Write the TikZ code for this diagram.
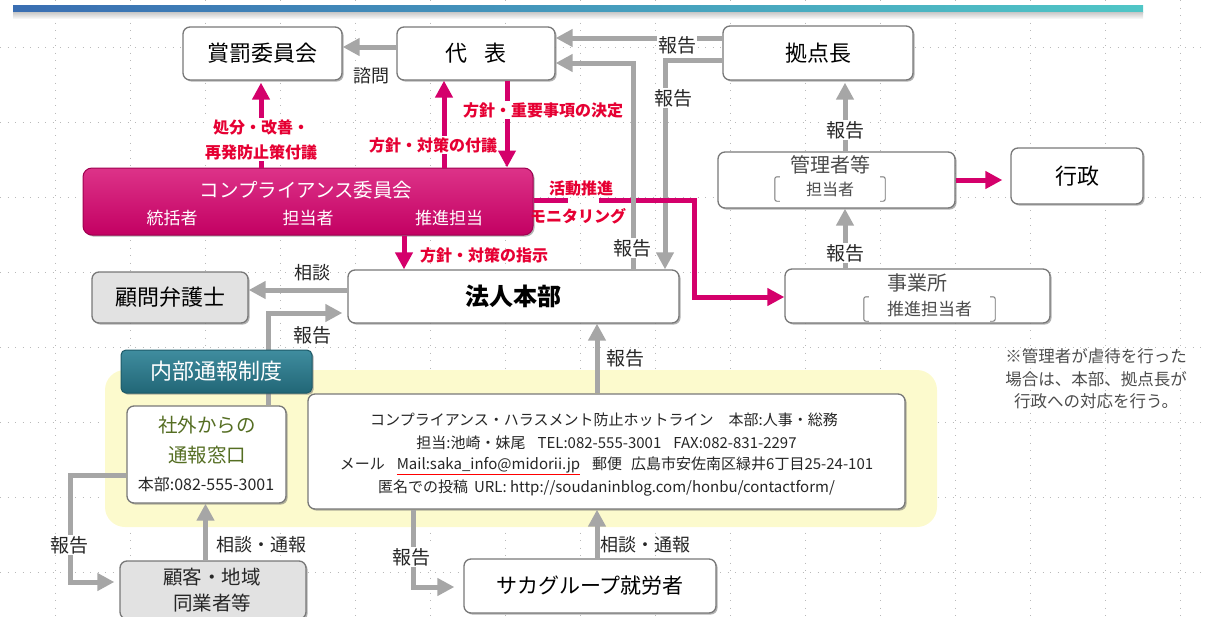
\documentclass[tikz,border=0pt]{standalone}
\usepackage{fontspec}
\setmainfont{Noto Sans CJK JP}
\usetikzlibrary{arrows.meta,shadows}

\definecolor{arrowgray}{RGB}{166,166,166}
\definecolor{pinkline}{RGB}{212,0,107}
\definecolor{redtxt}{RGB}{230,0,51}
\definecolor{boxline}{RGB}{120,120,120}
\definecolor{tealbox}{RGB}{42,128,148}
\definecolor{yellowbg}{RGB}{252,250,205}
\definecolor{greentxt}{RGB}{85,110,35}
\definecolor{lightbox}{RGB}{226,226,226}
\definecolor{gridgray}{RGB}{185,185,185}
\definecolor{barblue}{RGB}{58,110,178}
\definecolor{barteal}{RGB}{80,198,198}

\newcommand{\fsz}[1]{\fontsize{#1}{#1}\selectfont}
\newcommand{\mailul}[1]{\textcolor{red}{\underline{\textcolor{black!85}{#1}}}}

\tikzset{
  box/.style={draw=boxline, line width=1.3pt, rounded corners=7pt, fill=white, inner sep=0pt,
    drop shadow={shadow xshift=1.6pt, shadow yshift=-1.6pt, fill=black!60, opacity=.5}},
  graybox/.style={box, fill=lightbox},
  grayarrow/.style={draw=arrowgray, line width=5pt, -{Triangle[length=17pt,width=17pt]}},
  pinkarrow/.style={draw=pinkline, line width=5pt, -{Triangle[length=17pt,width=17pt]}},
  lbl/.style={font=\fsz{19}, text=black!85, inner sep=1pt},
  redlbl/.style={font=\fsz{16}\bfseries, text=redtxt, inner sep=1pt},
  onwhite/.style={fill=white},
  gridline/.style={gridgray, line width=0.7pt, dash pattern=on 1pt off 6.5pt},
  bracket/.style={black!55, line width=0.9pt, rounded corners=2pt},
}

\begin{document}
\begin{tikzpicture}[x=1pt,y=-1pt]
\useasboundingbox (0,0) rectangle (1205,616);

% background grid
\foreach \gx in {55,130,...,1180}
  \draw[gridline] (\gx,0) -- (\gx,616);
\foreach \gy in {47,122,...,572}
  \draw[gridline] (0,\gy) -- (1205,\gy);

% title bar
\shade[left color=barblue, right color=barteal] (13,5) rectangle (1143,12);
\shade[top color=black!22, bottom color=black!4] (13,12) rectangle (1143,18);

% internal reporting area
\node[fill=yellowbg, rounded corners=20pt, minimum width=832pt, minimum height=157pt, inner sep=0pt] (area) at (521,448.5) {};

% upper boxes
\node[box, minimum width=159pt, minimum height=53pt, font=\fsz{22}] (shobatsu) at (262.5,53.5) {賞罰委員会};
\node[box, minimum width=158pt, minimum height=53pt, font=\fsz{22}] (daihyo) at (476,53.5) {代\hspace{0.75em}表};
\node[box, minimum width=190pt, minimum height=54pt, font=\fsz{22}] (kyoten) at (818,53) {拠点長};

\node[draw=pinkline!75!black, line width=1pt, rounded corners=9pt, top color=pinkline!80!white, bottom color=pinkline!92!black,
  minimum width=450pt, minimum height=67pt, inner sep=0pt,
  drop shadow={shadow xshift=1.6pt, shadow yshift=-1.6pt, fill=black!60, opacity=.5}] (iinkai) at (308,201.5) {};
\node[font=\fsz{19.5}, text=white] (iinkaititle) at (306,190) {コンプライアンス委員会};
\node[font=\fsz{17}, text=white] (tokatsu) at (172,218) {統括者};
\node[font=\fsz{17}, text=white] (tanto) at (308,218) {担当者};
\node[font=\fsz{17}, text=white] (suishin) at (449,218) {推進担当};

\node[box, minimum width=237pt, minimum height=56pt] (kanri) at (836.5,180) {};
\node[font=\fsz{20}, text=black!70] (kanrititle) at (830,165) {管理者等};
\node[font=\fsz{16}, text=black!70, minimum width=110pt, minimum height=24pt, inner sep=0pt] (kanrisub) at (830,189) {担当者};
\draw[bracket] ([xshift=5pt]kanrisub.north west) -- (kanrisub.north west) -- (kanrisub.south west) -- ([xshift=5pt]kanrisub.south west);
\draw[bracket] ([xshift=-5pt]kanrisub.north east) -- (kanrisub.north east) -- (kanrisub.south east) -- ([xshift=-5pt]kanrisub.south east);

\node[box, minimum width=132pt, minimum height=56pt, font=\fsz{22}] (gyosei) at (1077,176) {行政};

\node[box, minimum width=265pt, minimum height=54pt] (jigyo) at (917.5,296) {};
\node[font=\fsz{20}, text=black!70] (jigyotitle) at (917,283) {事業所};
\node[font=\fsz{17}, text=black!70, minimum width=131pt, minimum height=24pt, inner sep=0pt] (jigyosub) at (929.5,309) {推進担当者};
\draw[bracket] ([xshift=5pt]jigyosub.north west) -- (jigyosub.north west) -- (jigyosub.south west) -- ([xshift=5pt]jigyosub.south west);
\draw[bracket] ([xshift=-5pt]jigyosub.north east) -- (jigyosub.north east) -- (jigyosub.south east) -- ([xshift=-5pt]jigyosub.south east);

\node[box, minimum width=331pt, minimum height=53pt, font=\fsz{24}\bfseries] (honbu) at (513.5,296.5) {法人本部};
\node[graybox, minimum width=156pt, minimum height=51pt, font=\fsz{22}] (bengoshi) at (170,297.5) {顧問弁護士};

% lower boxes
\node[box, minimum width=159pt, minimum height=97pt] (madoguchi) at (206.5,454.5) {};
\node[font=\fsz{19.5}, text=greentxt] (madoguchi1) at (207,425) {社外からの};
\node[font=\fsz{19.5}, text=greentxt] (madoguchi2) at (207,455) {通報窓口};
\node[font=\fsz{16}, text=black!85] (madoguchi3) at (206,484) {本部:082-555-3001};

\node[box, minimum width=597pt, minimum height=115pt] (hotline) at (606.5,451.5) {};
\node[font=\fsz{15}, text=black!85] (hotline1) at (604,420) {コンプライアンス・ハラスメント防止ホットライン\hspace{1em}本部:人事・総務};
\node[font=\fsz{15}, text=black!85] (hotline2) at (606.5,443) {担当:池崎・妹尾\hspace{0.8em}TEL:082-555-3001\hspace{0.8em}FAX:082-831-2297};
\node[font=\fsz{15}, text=black!85] (hotline3) at (606.5,466) {メール\hspace{0.8em}\mailul{Mail:saka\_info@midorii.jp}\hspace{0.8em}郵便\hspace{0.6em}広島市安佐南区緑井6丁目25-24-101};
\node[font=\fsz{15}, text=black!85] (hotline4) at (606.5,488) {匿名での投稿\hspace{0.4em}URL: http://soudaninblog.com/honbu/contactform/};

\node[graybox, minimum width=186pt, minimum height=58pt] (kokyaku) at (213,590) {};
\node[font=\fsz{19.5}, text=black!85] (kokyaku1) at (212,577) {顧客・地域};
\node[font=\fsz{19.5}, text=black!85] (kokyaku2) at (212,603) {同業者等};

\node[box, minimum width=252pt, minimum height=54pt, font=\fsz{21}] (sakag) at (590,586) {サカグループ就労者};

% gray connectors
\draw[grayarrow] ([yshift=6.5pt]daihyo.west) -- ([yshift=6.5pt]shobatsu.east);
\draw[grayarrow] ([yshift=15pt]kyoten.west) -- ([yshift=15pt]kyoten.west -| daihyo.east);
\draw[grayarrow] ([yshift=-7pt]kyoten.west) -| ([xshift=151.5pt]honbu.north);
\draw[grayarrow, shorten >=2pt] ([xshift=8.5pt]kanri.north) -- ([xshift=8.5pt]kanri.north |- kyoten.south);
\draw[grayarrow] ([xshift=-72.5pt]jigyo.north) -- ([xshift=-72.5pt]jigyo.north |- kanri.south);

% pink connectors
\draw[pinkarrow, shorten >=8pt] (kanri.east) -- (kanri.east -| gyosei.west);
\draw[pinkarrow, dash pattern=on 34pt off 31pt on 500pt] ([yshift=1.5pt]iinkai.east) -- ++(161,0) |- ([yshift=-1pt]jigyo.west);
\draw[pinkarrow, shorten >=2pt] ([xshift=-47pt]iinkai.north) -- ([xshift=-47pt]iinkai.north |- shobatsu.south);
\draw[pinkarrow] ([xshift=136pt]iinkai.north) -- ([xshift=136pt]iinkai.north |- daihyo.south);
\draw[pinkarrow] ([xshift=31pt]daihyo.south) -- ([xshift=31pt]daihyo.south |- iinkai.north);
\draw[pinkarrow] ([xshift=96pt]iinkai.south) -- ([xshift=96pt]iinkai.south |- honbu.north);

\draw[grayarrow] ([xshift=119.5pt]honbu.north) |- ([yshift=-9.5pt]daihyo.east);
\draw[grayarrow] ([yshift=6.5pt]honbu.west) -- ([yshift=6.5pt]honbu.west -| bengoshi.east);
\draw[grayarrow, shorten >=5pt] ([xshift=61.5pt]madoguchi.north) |- ([yshift=-16.5pt]honbu.west);
\draw[grayarrow] ([xshift=-9.5pt]hotline.north) -- ([xshift=-9.5pt]hotline.north |- honbu.south);
\draw[grayarrow, shorten >=5pt] ([yshift=-20.5pt]madoguchi.west) -- ++(-56,0) |- ([yshift=8pt]kokyaku.west);
\draw[grayarrow] ([xshift=-7.5pt]kokyaku.north) -- ([xshift=-7.5pt]kokyaku.north |- madoguchi.south);
\draw[grayarrow, shorten >=9pt] ([xshift=-193.5pt]hotline.south) |- ([yshift=-1pt]sakag.west);
\draw[grayarrow] ([xshift=7pt]sakag.north) -- ([xshift=7pt]sakag.north |- hotline.south);

\node[draw=tealbox!70!black, line width=1pt, rounded corners=5pt, top color=tealbox!90!white, bottom color=tealbox!80!black,
  minimum width=191pt, minimum height=43pt, inner sep=0pt, text=white, font=\fsz{22},
  drop shadow={shadow xshift=1.6pt, shadow yshift=-1.6pt, fill=black!60, opacity=.5}] (naibu) at (216.5,371.5) {内部通報制度};

% labels
\node[lbl, font=\fsz{18}] (shimon) at (371,76) {諮問};
\node[lbl, onwhite] (hokokuA) at (677,45) {報告};
\node[lbl, onwhite] (hokokuB) at (673,98) {報告};
\node[lbl, onwhite] (hokokuC) at (632,248) {報告};
\node[lbl, onwhite] (hokokuD) at (845,130) {報告};
\node[lbl, onwhite] (hokokuE) at (845,253) {報告};
\node[lbl] (hokokuF) at (312,335) {報告};
\node[lbl] (hokokuG) at (625,358) {報告};
\node[lbl, onwhite] (hokokuH) at (69,545) {報告};
\node[lbl, onwhite] (hokokuI) at (411,557) {報告};
\node[lbl, font=\fsz{18}] (sodan) at (312,273) {相談};
\node[lbl, font=\fsz{18}] (tsuhoA) at (261,545) {相談・通報};
\node[lbl, font=\fsz{18}] (tsuhoB) at (645,545) {相談・通報};

\node[redlbl, onwhite, align=center, font=\fontsize{16}{25}\selectfont\bfseries] (shobun) at (261,139.5) {処分・改善・\\再発防止策付議};
\node[redlbl, onwhite] (fushin) at (433,145) {方針・対策の付議};
\node[redlbl, onwhite] (kettei) at (543,110) {方針・重要事項の決定};
\node[redlbl] (shiji) at (484,255) {方針・対策の指示};
\node[redlbl] (katsudo) at (581,188) {活動推進};
\node[redlbl] (monitor) at (578,216) {モニタリング};

\node[text=black!70, align=center, font=\fontsize{16.5}{22.5}\selectfont] (note) at (1096,379) {※管理者が虐待を行った\\場合は、本部、拠点長が\\行政への対応を行う。};
\end{tikzpicture}
\end{document}
